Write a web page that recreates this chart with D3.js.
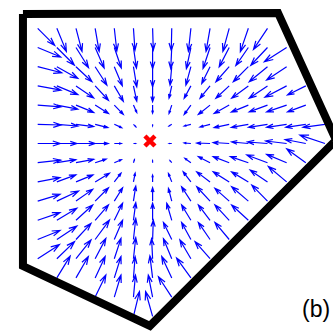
<!DOCTYPE html>
<html>
<head>
<meta charset="utf-8">
<script src="https://cdn.jsdelivr.net/npm/d3@7"></script>
<style>
  html, body { margin: 0; padding: 0; background: #fff; }
  svg { display: block; }
</style>
</head>
<body>
<svg id="chart" width="333" height="334"></svg>
<script>
// Sample grid (grid units), 16 x 16 nodes
const gridX = [0, 1, 2, 3, 4, 5, 6, 7, 8, 9, 10, 11, 12, 13, 14, 15];
const gridY = [0, 1, 2, 3, 4, 5, 6, 7, 8, 9, 10, 11, 12, 13, 14, 15];

// Field vectors [u, v] at each node of a row (v grows downwards); null = node outside the domain
const row00 = [[17,17],[9.5,23],[6,23],[4,23],[2.5,22.7],[1.5,22],[0.7,21.7],[-0.5,22],[-2.5,23],[-4,23],[-6.3,23],[-8,23.3],[-14,21],null,null,null];
const row01 = [[23,9.5],[17.5,17.5],[12.5,20],[9,20.5],[7,20.5],[3,20.5],[0,21],[-1,21],[-4.5,21],[-7,21],[-10,19.3],[-12.5,18],[-16.7,17.7],[-22.3,14.3],null,null];
const row02 = [[24,6],[21,11.7],[16,15],[11.7,18.3],[8,19],[3.3,20],[0,20],[-1.7,18.3],[-5,18.3],[-8.3,16.7],[-13.3,15],[-15,15],[-18.3,15],[-20,13.3],null,null];
const row03 = [[23.3,4.3],[21,8.7],[17.7,12],[13.3,14.3],[9,15.3],[3.3,15.3],[0,15.7],[-2.7,12.3],[-6.7,12.3],[-10,12.3],[-13.3,12.3],[-16.7,12.3],[-18.3,12.3],[-21.7,11.3],[-18.3,9],null];
const row04 = [[23.3,1.7],[21,4],[17.7,7.3],[13.3,8.3],[9,9.3],[3.3,7.3],[0,8],[-2.7,8.3],[-6.7,9.3],[-11.7,9.3],[-15,8.3],[-17,7],[-18.3,6.7],[-20,6.7],[-18.3,6.7],null];
const row05 = [[23.3,0.7],[21,1.7],[17.7,2.3],[12.7,3.3],[7.3,3.3],[2.3,2.3],[0,1.5],[-2.7,1.7],[-6.7,1.7],[-10,2.7],[-15,3.3],[-17,3],[-19,3],[-20,3],[-20,3],[-22,3]];
const row06 = [[22.5,0],[20,0],[19,0],[13,0],[7,0],[2,0],[0,0],[-2.5,0],[-6.7,-0.5],[-13.3,-0.5],[-16,-1],[-16.7,-1.5],[-20,-1.5],[-21,-2.5],[-20.7,-4],[-25,-8.3]];
const row07 = [[23,-2.5],[19,-3],[17.7,-3.3],[11,-3.5],[7,-3],[1,-3],[0,-2],[-1.7,-2],[-6,-4.3],[-11.7,-6],[-16,-6],[-18,-6],[-20.7,-7.7],[-20,-8.3],[-19,-13.7],null];
const row08 = [[22.3,-4.3],[19,-7],[17,-7],[14.3,-8.7],[6.7,-8.7],[1.7,-8.7],[0,-6.7],[-3.3,-8.3],[-7.7,-10],[-13.3,-10],[-16,-10],[-16.7,-10],[-17.3,-11.7],[-18.3,-15.3],null,null];
const row09 = [[22.3,-6.7],[21.7,-10],[16.7,-11.7],[13.3,-13.3],[8.3,-13.3],[2.3,-15],[0,-13.3],[-3.3,-12.7],[-9.3,-14.3],[-13.3,-14.3],[-14.3,-12.7],[-16.7,-14.3],[-15.7,-16],null,null,null];
const row10 = [[22.3,-7.7],[20,-12],[16.7,-15.3],[13.3,-15.3],[8.3,-17],[2.3,-17.7],[0,-17],[-5,-17],[-9.3,-15.3],[-11.7,-15.3],[-14.3,-15.3],[-16.7,-15.3],null,null,null,null];
const row11 = [[22.3,-9],[20,-13.3],[15,-16],[14.3,-19.3],[8.3,-19.3],[2.3,-21],[0.7,-19.3],[-8.3,-17],[-9.3,-17],[-11.7,-17],[-14.3,-17],null,null,null,null,null];
const row12 = [[21.7,-14],[17.7,-17],[15,-18.7],[10.7,-20.3],[6.7,-20.3],[2.3,-21],[-1,-20],[-8.3,-20],[-11,-18.7],[-15,-17],null,null,null,null,null,null];
const row13 = [null,[13.3,-21.7],[12.3,-21.3],[10,-21.3],[6.7,-21.3],[1.7,-21.3],[-2.7,-22],[-10,-21.3],[-14.3,-19.7],null,null,null,null,null,null,null];
const row14 = [null,null,null,[10.7,-22],[6.7,-22],[2,-22],[-4.3,-22],[-13.3,-20.3],null,null,null,null,null,null,null,null];
const row15 = [null,null,null,null,null,[6,-24.7],[-7,-24.7],null,null,null,null,null,null,null,null,null];
const fieldRows = [row00, row01, row02, row03, row04, row05, row06, row07,
                   row08, row09, row10, row11, row12, row13, row14, row15];

// Pentagonal domain boundary (grid units), traced from the top-left corner
const boundary = [[-0.77,-0.75],[12.55,-0.80],[15.58,5.82],[5.86,15.5],[-0.77,12.38],[-0.77,-0.75]];

// Target point
const target = [5.86, 5.87];

const panelLabel = "(b)";

// Quiver scale: field units -> grid units
const quiverScale = 1 / 19.15;
// Arrowhead shape (fraction of arrow length)
const headAlpha = 0.33, headBeta = 0.33;

const svg = d3.select("#chart");
const x = d3.scaleLinear().domain([0, 15]).range([37.7, 37.7 + 15 * 19.15]);
const y = d3.scaleLinear().domain([0, 15]).range([28.3, 28.3 + 15 * 19.2]);

// Build quiver records
const arrows = [];
fieldRows.forEach((row, j) => {
  row.forEach((vec, i) => {
    if (!vec) return;
    const [u, v] = vec;
    if (u === 0 && v === 0) return;
    arrows.push({ gx: gridX[i], gy: gridY[j], u, v });
  });
});

function arrowPath(d) {
  const x0 = x(d.gx), y0 = y(d.gy);
  const x1 = x(d.gx + d.u * quiverScale), y1 = y(d.gy + d.v * quiverScale);
  const du = x1 - x0, dv = y1 - y0;
  const hx1 = x1 - headAlpha * (du + headBeta * dv), hy1 = y1 - headAlpha * (dv - headBeta * du);
  const hx2 = x1 - headAlpha * (du - headBeta * dv), hy2 = y1 - headAlpha * (dv + headBeta * du);
  return `M${x0},${y0}L${x1},${y1}M${hx1},${hy1}L${x1},${y1}L${hx2},${hy2}`;
}

svg.append("g")
  .attr("class", "quiver")
  .selectAll("path")
  .data(arrows)
  .join("path")
  .attr("d", arrowPath)
  .attr("fill", "none")
  .attr("stroke", "#0000ff")
  .attr("stroke-width", 1.2);

// Domain boundary
const line = d3.line().x(p => x(p[0])).y(p => y(p[1]));
svg.append("path")
  .attr("d", line(boundary))
  .attr("fill", "none")
  .attr("stroke", "#000")
  .attr("stroke-width", 8)
  .attr("stroke-linejoin", "miter")
  .attr("stroke-miterlimit", 10)
  .attr("stroke-linecap", "butt");

// Target marker
const tx = x(target[0]), ty = y(target[1]), r = 5;
svg.append("path")
  .attr("d", `M${tx - r},${ty - r}L${tx + r},${ty + r}M${tx - r},${ty + r}L${tx + r},${ty - r}`)
  .attr("stroke", "#ff0000")
  .attr("stroke-width", 4.5)
  .attr("fill", "none");

// Panel label
svg.append("text")
  .attr("x", 302)
  .attr("y", 316.5)
  .attr("font-family", "Liberation Sans, Arial, Helvetica, sans-serif")
  .attr("font-size", 23)
  .attr("fill", "#000")
  .text(panelLabel);
</script>
</body>
</html>
